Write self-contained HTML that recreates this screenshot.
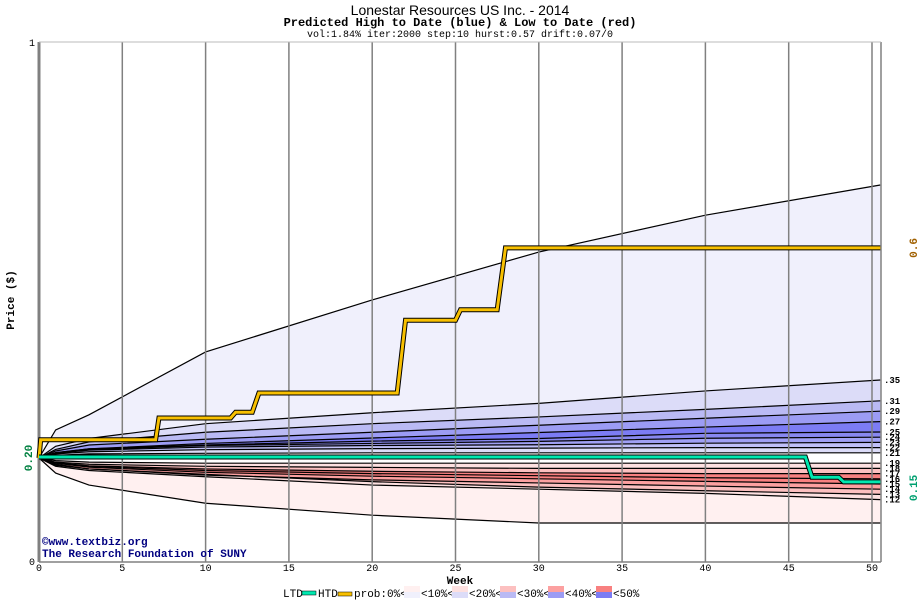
<!DOCTYPE html>
<html><head><meta charset="utf-8"><style>
body{margin:0;background:#fff;width:920px;height:600px;overflow:hidden}
svg{display:block}
text{font-family:"Liberation Mono",monospace}
</style></head><body>
<svg id="chart" width="920" height="600">
<text x="460" y="15" text-anchor="middle" font-size="14" style="font-family:'Liberation Sans',sans-serif">Lonestar Resources US Inc. - 2014</text>
<text x="460" y="26" text-anchor="middle" font-size="12" font-weight="bold">Predicted High to Date (blue) &amp;  Low to Date (red)</text>
<text x="460" y="37" text-anchor="middle" font-size="10">vol:1.84% iter:2000 step:10 hurst:0.57 drift:0.07/0</text>
<g id="bands"></g><g id="lines"></g><g id="grid"></g><g id="series"></g><g id="labels"></g>
<text x="14" y="300" transform="rotate(-90 14 300)" text-anchor="middle" font-size="11" font-weight="bold">Price ($)</text>
<text x="460" y="584" text-anchor="middle" font-size="11" font-weight="bold">Week</text>
<text x="42" y="545" font-size="11" font-weight="bold" fill="#000080">©www.textbiz.org</text>
<text x="42" y="557" font-size="11" font-weight="bold" fill="#000080">The Research Foundation of SUNY</text>
<g id="legend" font-size="11">
<text x="283" y="597">LTD</text>
<rect x="302" y="591" width="14" height="4" fill="#00e8b0" stroke="#000" stroke-width="0.5"/>
<text x="318" y="597">HTD</text>
<rect x="338" y="592" width="14" height="4" fill="#f8c000" stroke="#000" stroke-width="0.5"/>
<text x="354" y="597">prob:0%&lt;</text>
<rect x="404" y="586" width="16" height="6" fill="#fff0f0"/><rect x="404" y="592" width="16" height="6" fill="#f0f0fc"/>
<text x="421" y="597">&lt;10%&lt;</text>
<rect x="452" y="586" width="16" height="6" fill="#fde0e0"/><rect x="452" y="592" width="16" height="6" fill="#dcdcf8"/>
<text x="469" y="597">&lt;20%&lt;</text>
<rect x="500" y="586" width="16" height="6" fill="#fcc0c0"/><rect x="500" y="592" width="16" height="6" fill="#babaf4"/>
<text x="517" y="597">&lt;30%&lt;</text>
<rect x="548" y="586" width="16" height="6" fill="#fca0a0"/><rect x="548" y="592" width="16" height="6" fill="#9c9cf4"/>
<text x="565" y="597">&lt;40%&lt;</text>
<rect x="596" y="586" width="16" height="6" fill="#f88080"/><rect x="596" y="592" width="16" height="6" fill="#7c7cf4"/>
<text x="613" y="597">&lt;50%</text>
</g>
</svg>
<script>
const weeks=[0,1,3,10,20,30,40,50.5];
const envTop=[.20,.254,.283,.404,.504,.596,.667,.725];
const envBottom=[.20,.171,.148,.113,.09,.075,.075,.075];
const blueLabels=["0.35","0.31","0.29","0.27","0.25","0.24","0.23","0.22","0.21"];
const blueLines=[
[.20,.2225,.2375,.266,.287,.305,.329,.35],
[.20,.2165,.231,.2495,.266,.279,.2935,.31],
[.20,.2135,.225,.236,.2495,.263,.2765,.29],
[.20,.2105,.2175,.228,.2385,.249,.2595,.27],
[.20,.21,.2175,.225,.2325,.2375,.2475,.25],
[.20,.21,.216,.224,.228,.232,.238,.24],
[.20,.209,.215,.221,.224,.2255,.2285,.23],
[.20,.208,.212,.216,.218,.219,.22,.22],
[.20,.205,.208,.209,.21,.21,.21,.21]];
const redLabels=["0.19","0.18","0.17","0.16","0.15","0.14","0.13","0.12"];
const redLines=[
[.20,.195,.192,.19,.19,.19,.19,.19],
[.20,.192,.188,.184,.182,.18,.18,.18],
[.20,.191,.185,.179,.1745,.1715,.17,.17],
[.20,.19,.184,.176,.17,.166,.162,.16],
[.20,.19,.1825,.1725,.165,.16,.155,.15],
[.20,.188,.179,.167,.158,.152,.146,.14],
[.20,.186,.179,.1685,.1545,.144,.137,.13],
[.20,.184,.176,.164,.148,.14,.132,.12]];
const htdWeeks=[0,0.1,7,7.2,11.5,11.8,12.8,13.2,21.5,22,25,25.3,27.5,28,50.5];
const htdValues=[0.20,0.235,0.235,0.277,0.277,0.288,0.288,0.325,0.325,0.465,0.465,0.485,0.485,0.604,0.604];
const ltdWeeks=[0,46,46.4,48,48.3,50.5];
const ltdValues=[0.202,0.202,0.163,0.163,0.154,0.154];
const xTicks=[0,5,10,15,20,25,30,35,40,45,50];
const blueFills=["#f0f0fc","#dcdcf8","#babaf4","#9c9cf4","#7c7cf4","#8888f0","#a0a0f4","#c0c0f8","#dcdcf8"];
const redFills=["#fde0e0","#fcc0c0","#f88080","#f88080","#fca0a0","#fcc0c0","#fde0e0","#fff0f0"];
const X=w=>39+16.66*w, Y=p=>562-520*p;
const NS="http://www.w3.org/2000/svg";
function mk(tag,attrs,parent){const e=document.createElementNS(NS,tag);for(const k in attrs)e.setAttribute(k,attrs[k]);document.getElementById(parent).appendChild(e);return e;}
function pts(arr,ws){return arr.map((v,i)=>X((ws||weeks)[i])+","+Y(v));}
function band(a,b,fill,name){
 const p=pts(a).concat(pts(b).reverse());
 const e=mk('polygon',{points:p.join(' '),fill:fill},'bands');
 
 
}
const upper=[envTop].concat(blueLines);
for(let i=0;i<blueLines.length;i++)band(upper[i],upper[i+1],blueFills[i],'blue-band-'+i);
const lower=redLines.concat([envBottom]);
for(let i=0;i<redLines.length;i++)band(lower[i],lower[i+1],redFills[i],'red-band-'+i);
const all=[envTop,envBottom].concat(blueLines,redLines);
all.forEach((l,i)=>{const e=mk('polyline',{points:pts(l).join(' '),fill:'none',stroke:'#000','stroke-width':1.2},'lines');
 
 });
xTicks.forEach(t=>{const g=mk('line',{x1:X(t),x2:X(t),y1:42,y2:562,stroke:'#808080','stroke-width':t==0?3:1.5},'grid');
 
 
 const tx=mk('text',{x:X(t),y:571,'text-anchor':'middle','font-size':10},'grid');tx.textContent=t;
 
 });
mk('line',{x1:881,x2:881,y1:42,y2:562,stroke:'#808080','stroke-width':1.5},'grid');
mk('line',{x1:39,x2:881,y1:562,y2:562,stroke:'#808080','stroke-width':1.5},'grid');
mk('line',{x1:39,x2:881,y1:42,y2:42,stroke:'#bbb','stroke-width':1},'grid');
const htd=pts(htdValues,htdWeeks).join(' ');
mk('polyline',{points:htd,fill:'none',stroke:'#000','stroke-width':5},'series');
const h=mk('polyline',{points:htd,fill:'none',stroke:'#f8c000','stroke-width':3},'series');


const ltd=pts(ltdValues,ltdWeeks).join(' ');
mk('polyline',{points:ltd,fill:'none',stroke:'#000','stroke-width':5},'series');
const l=mk('polyline',{points:ltd,fill:'none',stroke:'#00e8b0','stroke-width':3},'series');


blueLines.concat(redLines).forEach((ln,i)=>{const lab=blueLabels.concat(redLabels)[i];
 const t=mk('text',{x:884,y:Y(ln[ln.length-1])+3,'font-size':9,'font-weight':'bold'},'labels');t.textContent=lab.slice(1);
 
 });
function vlab(x,y,txt,col,name){const t=mk('text',{x:x,y:y,transform:`rotate(-90 ${x} ${y})`,'text-anchor':'middle','font-size':11,'font-weight':'bold',fill:col},'labels');t.textContent=txt;
 
 }
vlab(32,Y(0.20),'0.20','#008040','y-label-start');
vlab(917,Y(htdValues[htdValues.length-1]),'0.6','#a06000','htd-end-label');
vlab(917,Y(ltdValues[ltdValues.length-1])+6,'0.15','#00a070','ltd-end-label');
const t1=mk('text',{x:32,y:46,'font-size':10,'text-anchor':'middle'},'labels');t1.textContent='1';


const t0=mk('text',{x:32,y:565,'font-size':10,'text-anchor':'middle'},'labels');t0.textContent='0';


</script>
</body></html>
